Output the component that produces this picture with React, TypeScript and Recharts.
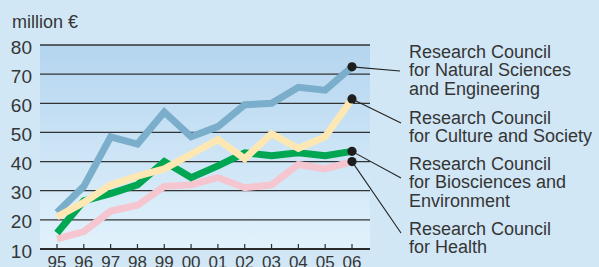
import React from 'react';
import { LineChart, Line, XAxis, YAxis, CartesianGrid } from 'recharts';

const years = ['95', '96', '97', '98', '99', '00', '01', '02', '03', '04', '05', '06'];
const naturalSciences = [22.5, 31.5, 48.5, 46, 57, 48.5, 52, 59.5, 60, 65.5, 64.5, 72.5];
const cultureSociety = [21, 26, 32, 35, 37.5, 42.5, 47.5, 41, 49.5, 44.5, 48.5, 61.5];
const biosciences = [15.5, 26.5, 29, 32, 40, 34.5, 38.5, 43, 42, 43, 42, 43.5];
const health = [13.5, 16, 23, 25, 31.5, 32, 34.5, 31, 32, 39, 37.5, 40];
const yTicks = [10, 20, 30, 40, 50, 60, 70, 80];

const data = years.map((year, i) => ({
    year,
    natural: naturalSciences[i],
    culture: cultureSociety[i],
    bio: biosciences[i],
    health: health[i],
}));

const FONT = '"Liberation Sans", Arial, Helvetica, sans-serif';
const TEXT = '#353535';

// where each leader line ends, next to its label
const leaderEnds: Record<string, [number, number]> = {
    natural: [400, 71],
    culture: [401, 123],
    bio: [401, 178],
    health: [401, 233],
};

const labelBlocks = [
    { lines: ['Research Council', 'for Natural Sciences', 'and Engineering'], y: 58 },
    { lines: ['Research Council', 'for Culture and Society'], y: 123.5 },
    { lines: ['Research Council', 'for Biosciences and', 'Environment'], y: 170 },
    { lines: ['Research Council', 'for Health'], y: 235 },
];

const endDot = (key: string) => (props: any) => {
    const { cx, cy, index } = props;
    if (index !== years.length - 1) return <g key={`d-${key}-${index}`} />;
    const [ex, ey] = leaderEnds[key];
    return (
        <g key={`d-${key}-${index}`}>
            <line x1={cx} y1={cy} x2={ex} y2={ey} stroke="#222" strokeWidth={1.1} />
            <circle cx={cx} cy={cy} r={4.6} fill="#1e1e1e" />
        </g>
    );
};

const XTick = (props: any) => {
    const { x, y, payload } = props;
    return (
        <g>
            <line x1={x} y1={y - 5} x2={x} y2={y} stroke="#2b2b2b" strokeWidth={1.2} />
            <text x={x} y={y + 18.5} textAnchor="middle" fontSize={17} fill={TEXT} fontFamily={FONT}>
                {payload.value}
            </text>
        </g>
    );
};

const YTick = (props: any) => {
    const { x, y, payload } = props;
    return (
        <text x={x} y={y + 8.5} textAnchor="end" fontSize={19} fill={TEXT} fontFamily={FONT}>
            {payload.value}
        </text>
    );
};

const App: React.FC = () => {
    return (
        <div style={{ position: 'absolute', left: 0, top: 0, width: 599, height: 267, background: '#d1e7f5', overflow: 'hidden' }}>
            <LineChart width={599} height={267} data={data} margin={{ top: 45, right: 229, bottom: 0, left: 0 }}>
                <defs>
                    <linearGradient id="plotBg" x1="0" y1="0" x2="0" y2="1">
                        <stop offset="0%" stopColor="#b4d5ef" />
                        <stop offset="100%" stopColor="#e2f2fc" />
                    </linearGradient>
                </defs>
                <CartesianGrid vertical={false} fill="url(#plotBg)" fillOpacity={1} stroke="#333" strokeWidth={1.3} />
                <XAxis
                    dataKey="year"
                    padding={{ left: 17, right: 18 }}
                    height={18}
                    tickSize={0}
                    tickMargin={0}
                    interval={0}
                    axisLine={{ stroke: '#2b2b2b', strokeWidth: 2 }}
                    tickLine={false}
                    tick={XTick}
                />
                <YAxis
                    domain={[10, 80]}
                    ticks={yTicks}
                    width={40}
                    axisLine={false}
                    tickLine={false}
                    tickSize={6}
                    tickMargin={2}
                    tick={YTick}
                />
                <Line dataKey="natural" stroke="#7aaecb" strokeWidth={7} strokeLinejoin="miter" dot={endDot('natural')} activeDot={false} isAnimationActive={false} />
                <Line dataKey="health" stroke="#f6c6d0" strokeWidth={7} strokeLinejoin="miter" dot={endDot('health')} activeDot={false} isAnimationActive={false} />
                <Line dataKey="bio" stroke="#00a651" strokeWidth={7} strokeLinejoin="miter" dot={endDot('bio')} activeDot={false} isAnimationActive={false} />
                <Line dataKey="culture" stroke="#fde8b3" strokeWidth={7} strokeLinejoin="miter" dot={endDot('culture')} activeDot={false} isAnimationActive={false} />
            </LineChart>
            <svg width={599} height={267} style={{ position: 'absolute', left: 0, top: 0, pointerEvents: 'none' }}>
                <text x={12} y={28} fontSize={18} fill={TEXT} fontFamily={FONT}>million €</text>
                {labelBlocks.map((b, i) =>
                    b.lines.map((l, j) => (
                        <text key={`${i}-${j}`} x={409} y={b.y + j * 18.3} fontSize={18} fill={TEXT} fontFamily={FONT}>
                            {l}
                        </text>
                    ))
                )}
            </svg>
        </div>
    );
};

export default App;
